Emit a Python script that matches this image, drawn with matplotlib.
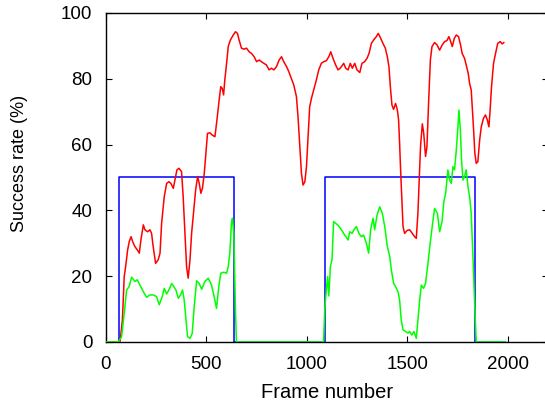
"""
Success rate per frame, with the ground-truth windows drawn as a box.

Writes:
    out.png
"""

from __future__ import annotations

import matplotlib

matplotlib.use("Agg")
import matplotlib.pyplot as plt


OUTPUT_IMAGE = "out.png"

# red curve
red_frames = [
    0, 72, 84, 93, 100, 110, 118, 127, 135, 146, 158, 168, 176, 188, 196, 209,
    221, 229, 237, 249, 262, 271, 279, 292, 304, 315, 325, 337, 345, 355, 365,
    378, 386, 395, 403, 411, 420, 428, 439, 448, 458, 466, 474, 482, 491, 499,
    507, 519, 530, 544, 554, 565, 573, 580, 587, 593, 602, 610, 621, 635, 646,
    656, 664, 676, 688, 701, 714, 726, 739, 751, 764, 775, 787, 800, 813, 825,
    837, 850, 863, 875, 886, 900, 911, 924, 936, 949, 957, 966, 974, 982, 991,
    999, 1007, 1015, 1024, 1035, 1048, 1060, 1073, 1085, 1098, 1110, 1120,
    1131, 1144, 1156, 1166, 1173, 1184, 1194, 1206, 1217, 1227, 1239, 1250,
    1264, 1275, 1288, 1300, 1310, 1322, 1333, 1346, 1356, 1368, 1379, 1391,
    1401, 1409, 1416, 1424, 1432, 1442, 1451, 1457, 1462, 1467, 1474, 1479,
    1487, 1499, 1512, 1525, 1537, 1545, 1553, 1560, 1566, 1575, 1582, 1591,
    1598, 1606, 1615, 1623, 1636, 1648, 1661, 1674, 1686, 1697, 1707, 1716,
    1724, 1734, 1744, 1755, 1765, 1773, 1785, 1793, 1803, 1810, 1818, 1823,
    1830, 1836, 1843, 1851, 1860, 1868, 1879, 1889, 1898, 1906, 1912, 1919,
    1929, 1939, 1950, 1962, 1972, 1980,
]
red_rate = [
    0, 0, 6.7, 19.9, 22.9, 28, 30.5, 32, 30.5, 29, 28, 27, 31, 35.6, 34.1, 33.5,
    34.1, 33, 29, 23.9, 25, 27, 36.1, 44.2, 48.2, 48.7, 48.2, 46.7, 49.2, 52.3,
    52.8, 51.8, 44.2, 33, 22.9, 19.4, 25, 33, 40.1, 46.2, 50.3, 48.2, 45.2,
    46.7, 51.3, 57.4, 63.4, 63.6, 62.9, 62.4, 67.5, 73.6, 77.6, 77.1, 75.1,
    79.6, 84.7, 89.8, 91.8, 93.3, 94.3, 93.8, 91.8, 89.3, 89, 89.3, 88.2, 87.7,
    86.7, 85.2, 85.7, 85.2, 84.7, 84.2, 82.7, 83.2, 82.7, 83.7, 85.7, 86.7,
    85.2, 83.7, 82.2, 80.1, 78.1, 74.6, 68.5, 59.4, 51.3, 47.7, 48.7, 53.3,
    62.4, 71.5, 74.1, 76.6, 79.6, 82.7, 84.7, 85.2, 85.5, 86.7, 88.2, 86.2,
    84.2, 82.7, 83.2, 83.7, 84.7, 83.2, 82.7, 84.7, 83.2, 84.7, 82.7, 81.9,
    84.7, 85.2, 86.2, 87.7, 90.8, 91.8, 92.8, 93.8, 92.3, 90.8, 89.3, 86.7,
    83.7, 77.6, 72, 70.7, 72.5, 70.5, 67.5, 60.4, 52.3, 42.2, 35.1, 33, 33.9,
    34.1, 33, 32, 31.5, 39.1, 50.3, 59.4, 66.3, 63.4, 56.4, 59.4, 72.5, 85.7,
    89.8, 91, 90.3, 88.7, 90.3, 91.3, 91.6, 92.8, 91.3, 89.8, 92.3, 93.3, 92.8,
    90.3, 87.7, 86.2, 84.2, 81.7, 78.6, 76.6, 71.5, 64.4, 57.4, 54.3, 54.8,
    61.4, 65.4, 68, 69, 67.5, 65.4, 70.5, 77.6, 84.7, 87.7, 90.8, 91.3, 90.6,
    91,
]

# green curve
green_frames = [
    0, 64, 80, 93, 105, 117, 130, 146, 158, 171, 188, 204, 221, 237, 254, 267,
    282, 292, 304, 315, 329, 340, 350, 362, 373, 383, 391, 400, 408, 420, 431,
    441, 453, 466, 478, 494, 511, 527, 540, 552, 563, 573, 588, 602, 610, 618,
    626, 631, 638, 646, 651, 1084, 1090, 1098, 1104, 1110, 1118, 1126, 1134,
    1148, 1161, 1173, 1189, 1206, 1214, 1226, 1235, 1247, 1260, 1272, 1283,
    1297, 1308, 1318, 1330, 1338, 1350, 1363, 1376, 1388, 1401, 1413, 1421,
    1432, 1442, 1454, 1462, 1470, 1479, 1492, 1504, 1512, 1523, 1533, 1545,
    1553, 1562, 1570, 1581, 1591, 1603, 1614, 1626, 1636, 1650, 1661, 1673,
    1682, 1691, 1702, 1711, 1719, 1727, 1735, 1744, 1752, 1757, 1764, 1770,
    1777, 1785, 1793, 1802, 1810, 1818, 1826, 1835, 1843, 1984,
]
green_rate = [
    0, 0, 1.6, 8.7, 15.8, 16.8, 19.7, 18.4, 18.9, 17.3, 15.3, 13.6, 14.3, 14.3,
    13.8, 11.3, 13.8, 16.3, 14.6, 15.8, 17.8, 16.8, 15.8, 13.3, 14.3, 15.8,
    12.8, 6.7, 1.6, 1.1, 2.6, 10.8, 18.6, 17.8, 16, 18.4, 19.4, 17.3, 13.8,
    10.2, 16.8, 20.9, 21.2, 20.9, 22.9, 27, 36.1, 37.6, 33, 9.7, 0, 0, 10, 16,
    19.9, 14, 23, 25, 36.6, 35.9, 35.1, 34.1, 32.5, 31, 33.5, 33, 34.1, 35.1,
    33, 32, 32.5, 30, 27, 34.1, 37.6, 34.1, 38.6, 41.1, 39.1, 35.1, 29, 26,
    21.9, 17.9, 16.8, 15.3, 12.8, 6.7, 3.7, 3.2, 2.7, 3.2, 2.1, 3.2, 1.1, 6.7,
    12.8, 17.3, 16.3, 17.8, 23.9, 30, 36, 40.6, 39.1, 33.5, 36.6, 42.7, 45.2,
    52.3, 49.2, 48.2, 53.3, 52.3, 58.4, 65.4, 70.5, 64.4, 55.3, 49.2, 50.3,
    52.3, 47.2, 44.2, 39.1, 27, 11.8, 0, 0,
]

# blue ground-truth windows
gt_frames = [0, 65, 65, 638, 638, 1090, 1090, 1837, 1837, 1984]
gt_rate = [0, 0, 50, 50, 0, 0, 50, 50, 0, 0]

x_ticks = [0, 500, 1000, 1500, 2000]
y_ticks = [0, 20, 40, 60, 80, 100]


def plot():
    plt.rcParams["font.family"] = ["Liberation Sans", "DejaVu Sans"]

    fig = plt.figure(figsize=(5.45, 4.08), dpi=100)
    ax = fig.add_axes([0.1936, 0.1618, 0.812, 0.8064])

    ax.plot(gt_frames, gt_rate, color="#0000ff", linewidth=1.1, zorder=2)
    ax.plot(red_frames, red_rate, color="#ff0000", linewidth=1.1, zorder=3)
    ax.plot(green_frames, green_rate, color="#00ff00", linewidth=1.1, zorder=4)

    ax.set_xlim(0, 2200)
    ax.set_ylim(0, 100)
    ax.set_xticks(x_ticks)
    ax.set_yticks(y_ticks)

    ax.tick_params(direction="in", top=True, right=True, length=4,
                   width=0.8, labelsize=13.5)
    ax.tick_params(axis="x", pad=10)
    ax.tick_params(axis="y", pad=9.5)

    for spine in ax.spines.values():
        spine.set_linewidth(1.0)

    ax.set_xlabel("Frame number", fontsize=14.5, labelpad=7)
    ax.set_ylabel("Success rate (%)", fontsize=13)
    # label sits a bit above the middle of the axis in the reference
    ax.yaxis.set_label_coords(-0.175, 0.543)

    fig.savefig(OUTPUT_IMAGE, dpi=100)
    plt.close(fig)


def main():
    plot()
    print(f"Generated: {OUTPUT_IMAGE}")


if __name__ == "__main__":
    main()
